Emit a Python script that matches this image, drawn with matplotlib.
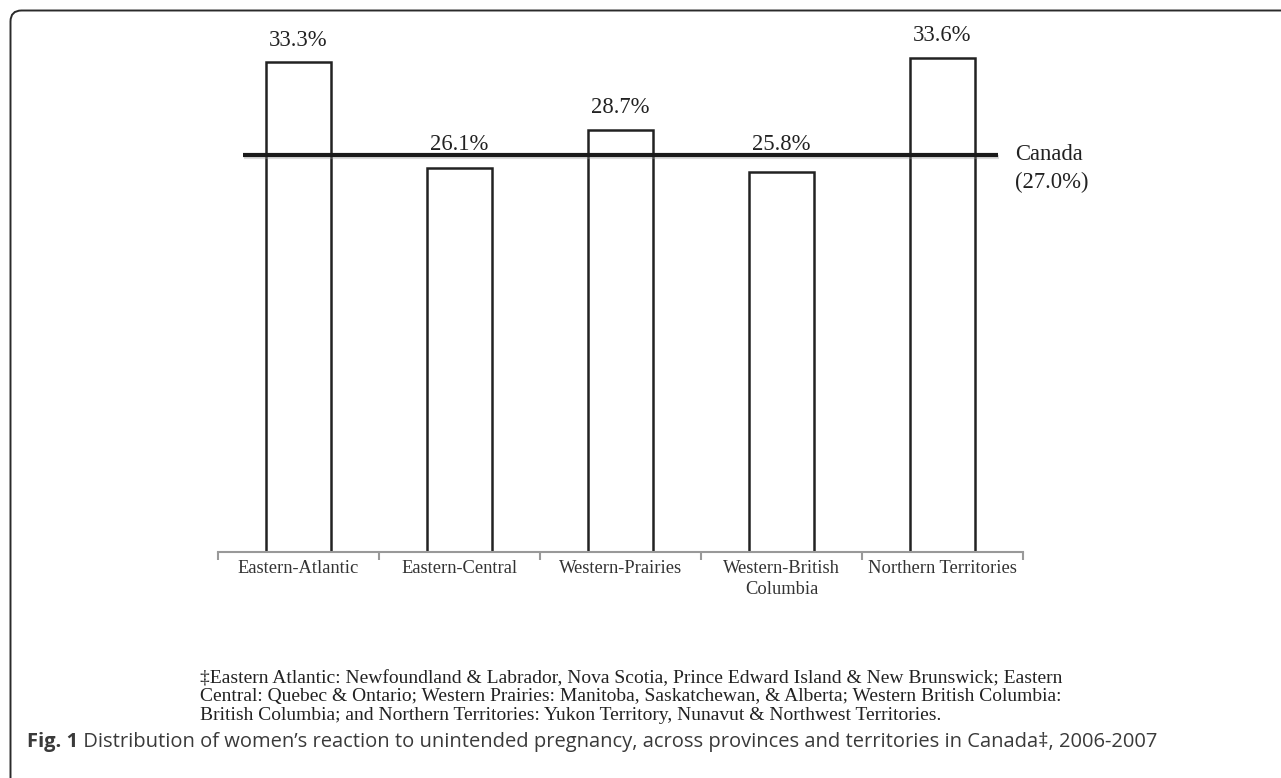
import matplotlib.pyplot as plt
import matplotlib.patheffects as pe
from matplotlib.patches import PathPatch
from matplotlib.path import Path
from matplotlib.transforms import Affine2D
import numpy as np

regions = ["Eastern-Atlantic", "Eastern-Central", "Western-Prairies",
           "Western-British\nColumbia", "Northern Territories"]
values = [33.3, 26.1, 28.7, 25.8, 33.6]
labels = ["33.3%", "26.1%", "28.7%", "25.8%", "33.6%"]
canada = 27.0
canada_label = ["Canada", "(27.0%)"]

footnote = ("\u2021Eastern Atlantic: Newfoundland & Labrador, Nova Scotia, Prince Edward Island & New Brunswick; Eastern\n"
            "Central: Quebec & Ontario; Western Prairies: Manitoba, Saskatchewan, & Alberta; Western British Columbia:\n"
            "British Columbia; and Northern Territories: Yukon Territory, Nunavut & Northwest Territories.")
caption_bold = "Fig. 1"
caption = " Distribution of women\u2019s reaction to unintended pregnancy, across provinces and territories in Canada\u2021, 2006-2007"

serif = ["Liberation Serif", "DejaVu Serif"]
sans = ["Open Sans", "DejaVu Sans"]
shadow = [pe.SimplePatchShadow(offset=(1, -1.5), shadow_rgbFace="0.6", alpha=0.35), pe.Normal()]
lshadow = [pe.SimpleLineShadow(offset=(1, -1.5), shadow_color="0.6", alpha=0.35), pe.Normal()]

W, H = 1281, 778
fig = plt.figure(figsize=(W / 100, H / 100), dpi=100)

# page frame: only the top and left edges show, rounded top-left corner
px = Affine2D().scale(1, -1).translate(0, H)  # pixel coords, y down
r = 11
verts = [(10.5, H + 20), (10.5, 10.5 + r), (10.5, 10.5), (10.5 + r, 10.5), (W + 20, 10.5)]
codes = [Path.MOVETO, Path.LINETO, Path.CURVE3, Path.CURVE3, Path.LINETO]
fig.patches.append(PathPatch(Path(verts, codes), transform=px, fill=False,
                             edgecolor="#2a2a2a", linewidth=1.4))

ax = fig.add_axes([218 / W, 226 / H, 805 / W, 36.5 * 14.71 / H])
x = np.arange(len(regions))

bars = ax.bar(x, values, width=0.4, color="white", edgecolor="#222222",
              linewidth=1.8, zorder=2)
for b in bars:
    b.set_path_effects(shadow)
ax.plot([-0.345, 4.345], [canada, canada], color="#1a1a1a", linewidth=3,
        zorder=3, solid_capstyle="butt", path_effects=lshadow)

# labels of bars under the Canada line sit just above the line
for xi, v, lab in zip(x, values, labels):
    y = v + 1.5 if v > canada else canada + 0.7
    ax.text(xi, y, lab, ha="center", va="center", fontsize=16.3,
            family=serif, color="#222222")

ax.text(4.45, canada, canada_label[0], ha="left", va="center", fontsize=16.3,
        family=serif, color="#222222")
ax.text(4.45, canada - 1.9, canada_label[1], ha="left", va="center", fontsize=16.3,
        family=serif, color="#222222")

ax.set_xlim(-0.5, 4.5)
ax.set_ylim(0, 36.5)
ax.set_yticks([])
for s in ["top", "right", "left"]:
    ax.spines[s].set_visible(False)
ax.spines["bottom"].set_color("#999999")
ax.spines["bottom"].set_linewidth(1.5)
ax.set_xticks(np.arange(-0.5, 5, 1))
ax.set_xticklabels([])
ax.tick_params(axis="x", length=6, width=1.5, color="#999999", direction="out")
for xi, r_ in zip(x, regions):
    ax.text(xi, -0.55, r_, ha="center", va="top", fontsize=13.3, family=serif,
            color="#333333", linespacing=1.3)

fig.text(200 / W, 1 - 670 / H, footnote, ha="left", va="top", fontsize=14,
         family=serif, color="#222222", linespacing=1.1)

t = fig.text(27 / W, 1 - 742 / H, caption_bold, ha="left", va="center",
             fontsize=14.5, fontweight="bold", family=sans, color="#3a3a3a")
ax.annotate(caption, xy=(1, 0.5), xycoords=t, ha="left", va="center",
            fontsize=14.5, family=sans, color="#3a3a3a", annotation_clip=False)

fig.savefig("out.png", dpi=100)
